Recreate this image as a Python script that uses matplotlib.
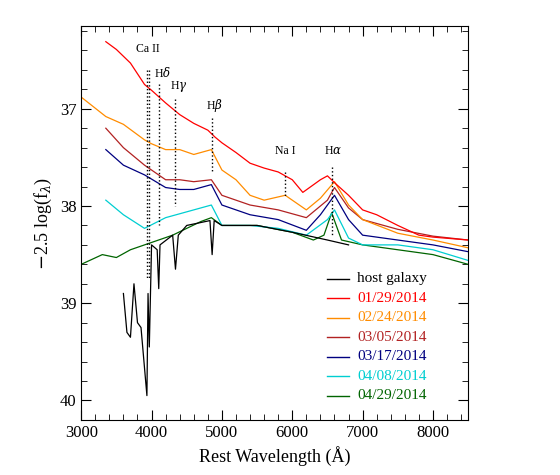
import matplotlib
matplotlib.use("Agg")
import matplotlib.pyplot as plt
from matplotlib.ticker import MultipleLocator

plt.rcParams['font.family'] = ['Liberation Serif', 'DejaVu Serif']
plt.rcParams['mathtext.fontset'] = 'dejavuserif'

# spectra: wavelength (A) and -2.5 log(f)
wl_red = [3350, 3500, 3700, 3900, 4000, 4200, 4400, 4600, 4800, 4900, 5000, 5200, 5400, 5600,
          5800, 6000, 6150, 6400, 6500, 6600, 6800, 7000, 7200, 7500, 7800, 8000, 8500]
mag_red = [36.31, 36.39, 36.53, 36.75, 36.81, 36.94, 37.06, 37.15, 37.22, 37.29, 37.35, 37.45, 37.56, 37.61,
           37.65, 37.73, 37.86, 37.73, 37.69, 37.76, 37.89, 38.04, 38.09, 38.2, 38.3, 38.32, 38.35]

wl_orange = [3000, 3350, 3600, 3900, 4000, 4200, 4400, 4600, 4850, 5000, 5200, 5400, 5600, 5900,
             6200, 6400, 6600, 6800, 7000, 7500, 8000, 8500]
mag_orange = [36.88, 37.08, 37.16, 37.32, 37.36, 37.42, 37.42, 37.47, 37.42, 37.63, 37.73, 37.89, 37.94, 37.89,
              38.04, 37.92, 37.75, 37.99, 38.14, 38.28, 38.35, 38.43]

wl_brown = [3350, 3600, 3900, 4200, 4400, 4600, 4850, 5000, 5400, 5800, 6200, 6500, 6600, 6800,
            7000, 7500, 8000, 8500]
mag_brown = [37.2, 37.4, 37.58, 37.73, 37.73, 37.75, 37.73, 37.89, 37.99, 38.04, 38.12, 37.94, 37.81, 38.02,
             38.14, 38.24, 38.31, 38.35]

wl_navy = [3350, 3600, 3900, 4200, 4400, 4600, 4850, 5000, 5400, 5800, 6200, 6400, 6600, 6800,
           7000, 7500, 8000, 8500]
mag_navy = [37.42, 37.58, 37.68, 37.81, 37.83, 37.83, 37.78, 37.99, 38.09, 38.14, 38.25, 38.09, 37.89, 38.14,
            38.3, 38.35, 38.4, 38.47]

wl_cyan = [3350, 3600, 3900, 4200, 4500, 4850, 5000, 5400, 5800, 6200, 6500, 6600, 6800, 7000,
           7500, 8000, 8500]
mag_cyan = [37.94, 38.09, 38.23, 38.12, 38.06, 37.99, 38.2, 38.2, 38.23, 38.3, 38.14, 38.04, 38.33, 38.4,
            38.4, 38.45, 38.56]

wl_green = [3000, 3300, 3500, 3700, 3900, 4100, 4300, 4500, 4700, 4850, 5000, 5500, 6000, 6300,
            6450, 6560, 6700, 7000, 7500, 8000, 8500]
mag_green = [38.6, 38.5, 38.53, 38.45, 38.4, 38.35, 38.3, 38.23, 38.16, 38.12, 38.2, 38.2, 38.27, 38.35,
             38.3, 38.07, 38.35, 38.4, 38.45, 38.5, 38.6]

wl_host = [3600, 3650, 3700, 3750, 3800, 3850, 3934, 3950, 3968, 4000, 4080, 4102, 4120, 4300, 4340,
           4380, 4500, 4700, 4830, 4861, 4890, 5000, 5500, 6000, 6500, 6800]
mag_host = [38.9, 39.3, 39.35, 38.8, 39.2, 39.25, 39.95, 38.9, 39.45, 38.4, 38.45, 38.85, 38.4, 38.3, 38.65,
            38.3, 38.2, 38.17, 38.15, 38.5, 38.15, 38.2, 38.2, 38.27, 38.35, 38.4]

series = [
    (wl_host, mag_host, 'black', 'host galaxy'),
    (wl_red, mag_red, 'red', '01/29/2014'),
    (wl_orange, mag_orange, 'darkorange', '02/24/2014'),
    (wl_brown, mag_brown, 'firebrick', '03/05/2014'),
    (wl_navy, mag_navy, 'navy', '03/17/2014'),
    (wl_cyan, mag_cyan, 'darkturquoise', '04/08/2014'),
    (wl_green, mag_green, 'darkgreen', '04/29/2014'),
]

# line markers
line_wl = [3934, 3968, 4102, 4340, 4861, 5893, 6563]
line_top = [36.6, 36.6, 36.75, 36.9, 37.1, 37.65, 37.6]
line_bot = [38.75, 38.75, 38.2, 38.0, 37.66, 37.9, 38.3]
labels = ['Ca II', 'H$\\delta$', 'H$\\gamma$', 'H$\\beta$', 'Na I', 'H$\\alpha$']
label_wl = [3950, 4150, 4380, 4900, 5900, 6580]
label_y = [36.45, 36.7, 36.85, 37.05, 37.5, 37.5]

fig = plt.figure(figsize=(5.6, 4.75), dpi=100)
ax = fig.add_axes([0.145, 0.116, 0.691, 0.829])

for i in [6, 5, 4, 3, 2, 1, 0]:
    w, m, c, lab = series[i]
    ax.plot(w, m, color=c, lw=0.9)

for w, t, b in zip(line_wl, line_top, line_bot):
    ax.plot([w, w], [t, b], color='black', ls=':', lw=1)
for w, y, s in zip(label_wl, label_y, labels):
    ax.text(w, y, s, fontsize=8.5, ha='center', va='bottom')

# legend
for k, (w, m, c, lab) in enumerate(series):
    y = 38.75 + k * 0.2
    ax.plot([6500, 6800], [y, y], color=c, lw=1)
    ax.text(6920, y, lab, color=c, fontsize=11, va='center')

ax.set_xlim(3000, 8500)
ax.set_ylim(40.2, 36.15)
ax.xaxis.set_major_locator(MultipleLocator(1000))
ax.xaxis.set_minor_locator(MultipleLocator(200))
ax.yaxis.set_major_locator(MultipleLocator(1))
ax.yaxis.set_minor_locator(MultipleLocator(0.2))
ax.tick_params(which='both', direction='in', top=True, right=True, labelsize=12)
ax.tick_params(which='major', length=7)
ax.tick_params(which='minor', length=4)
ax.set_xlabel('Rest Wavelength (\u00c5)', fontsize=13)
ax.set_ylabel('$-$2.5 log(f$_\\lambda$)', fontsize=13)

fig.savefig('out.png', dpi=100)
